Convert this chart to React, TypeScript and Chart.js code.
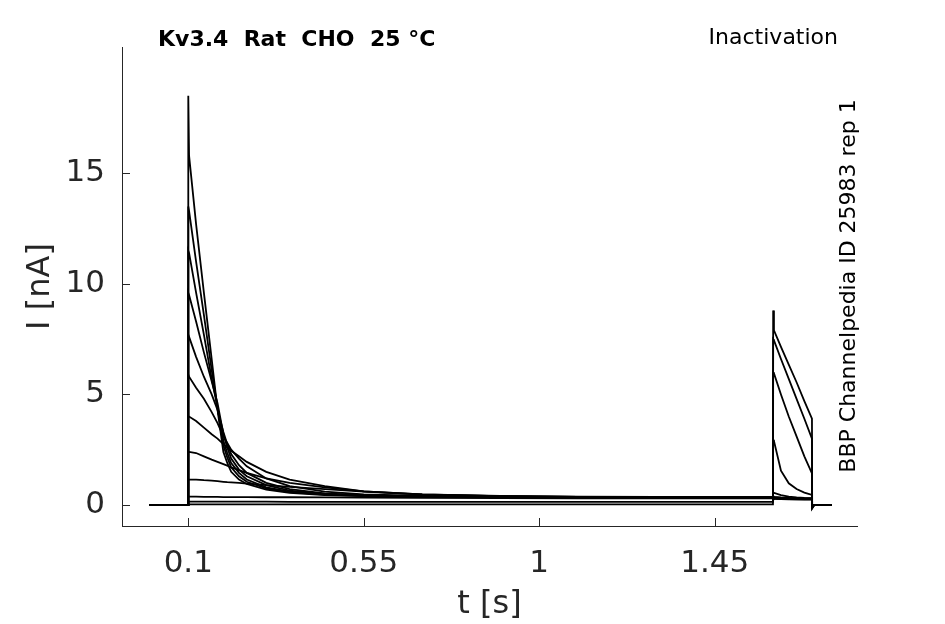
import { useEffect, useRef } from "react"
import { Chart, registerables } from "chart.js"

Chart.register(...registerables)

// sample times [s] shared by every sweep
const timeS = [
  0, 0.0995, 0.1, 0.102, 0.12, 0.14, 0.16, 0.175, 0.19, 0.2, 0.21, 0.23, 0.25, 0.3, 0.36, 0.45, 0.55, 0.7,
  0.9, 1.1, 1.3, 1.5, 1.5995, 1.6, 1.602, 1.62, 1.64, 1.66, 1.68, 1.6995, 1.7, 1.705, 1.75,
]

// current [nA] per sweep
const sweep01 = [0, 0, 18.5, 15.8, 12.7, 9.6, 6.6, 4.3, 2.4, 1.9, 1.5, 1.15, 0.95, 0.7, 0.55, 0.45, 0.4, 0.37, 0.35, 0.34, 0.33, 0.33, 0.32, 0.3, 0.28, 0.27, 0.26, 0.26, 0.25, 0.25, -0.1, 0, 0]
const sweep02 = [0, 0, 13.5, 13.3, 11.0, 8.6, 6.1, 4.4, 2.7, 2.15, 1.7, 1.3, 1.05, 0.75, 0.58, 0.47, 0.41, 0.37, 0.35, 0.34, 0.33, 0.32, 0.32, 0.32, 0.3, 0.28, 0.27, 0.26, 0.26, 0.25, -0.1, 0, 0]
const sweep03 = [0, 0, 11.5, 11.4, 9.6, 7.7, 5.7, 4.4, 2.9, 2.35, 1.9, 1.45, 1.15, 0.8, 0.6, 0.48, 0.42, 0.38, 0.35, 0.34, 0.33, 0.32, 0.32, 0.33, 0.31, 0.29, 0.28, 0.27, 0.26, 0.26, -0.1, 0, 0]
const sweep04 = [0, 0, 9.6, 9.5, 8.3, 6.9, 5.6, 4.6, 3.2, 2.6, 2.1, 1.6, 1.3, 0.9, 0.65, 0.5, 0.43, 0.39, 0.36, 0.35, 0.34, 0.33, 0.33, 0.34, 0.32, 0.3, 0.29, 0.28, 0.27, 0.27, -0.1, 0, 0]
const sweep05 = [0, 0, 7.7, 7.6, 6.7, 5.8, 5.0, 4.3, 3.3, 2.75, 2.3, 1.8, 1.45, 1.0, 0.72, 0.52, 0.44, 0.4, 0.37, 0.35, 0.34, 0.34, 0.33, 0.35, 0.33, 0.31, 0.3, 0.29, 0.28, 0.28, -0.1, 0, 0]
const sweep06 = [0, 0, 5.9, 5.8, 5.3, 4.8, 4.2, 3.7, 3.1, 2.8, 2.5, 2.1, 1.75, 1.2, 0.85, 0.6, 0.48, 0.41, 0.38, 0.36, 0.35, 0.34, 0.34, 0.36, 0.34, 0.32, 0.31, 0.3, 0.29, 0.29, -0.1, 0, 0]
const sweep07 = [0, 0, 4.0, 4.0, 3.8, 3.5, 3.2, 3.0, 2.75, 2.6, 2.45, 2.2, 1.95, 1.5, 1.15, 0.85, 0.62, 0.48, 0.4, 0.37, 0.36, 0.35, 0.35, 0.4, 0.37, 0.34, 0.32, 0.31, 0.3, 0.3, -0.1, 0, 0]
const sweep08 = [0, 0, 2.4, 2.4, 2.35, 2.2, 2.05, 1.95, 1.85, 1.78, 1.7, 1.58, 1.45, 1.2, 1.0, 0.8, 0.62, 0.48, 0.41, 0.38, 0.37, 0.36, 0.36, 0.56, 0.55, 0.45, 0.38, 0.34, 0.32, 0.31, -0.1, 0, 0]
const sweep09 = [0, 0, 1.15, 1.15, 1.15, 1.12, 1.1, 1.08, 1.05, 1.03, 1.02, 1.0, 0.97, 0.9, 0.82, 0.72, 0.6, 0.47, 0.4, 0.37, 0.36, 0.35, 0.35, 2.95, 2.9, 1.55, 0.98, 0.72, 0.56, 0.46, -0.1, 0, 0]
const sweep10 = [0, 0, 0.4, 0.38, 0.38, 0.37, 0.37, 0.37, 0.36, 0.36, 0.36, 0.36, 0.36, 0.35, 0.35, 0.34, 0.33, 0.32, 0.31, 0.3, 0.3, 0.3, 0.3, 6.0, 5.95, 5.0, 4.0, 3.1, 2.2, 1.43, -0.1, 0, 0]
const sweep11 = [0, 0, 0.16, 0.15, 0.15, 0.15, 0.15, 0.15, 0.15, 0.15, 0.15, 0.15, 0.15, 0.15, 0.14, 0.14, 0.14, 0.14, 0.14, 0.14, 0.14, 0.14, 0.14, 7.5, 7.45, 6.6, 5.7, 4.8, 3.9, 3.0, -0.15, 0, 0]
const sweep12 = [0, 0, 0.04, 0.03, 0.03, 0.03, 0.03, 0.03, 0.03, 0.03, 0.03, 0.03, 0.03, 0.03, 0.03, 0.03, 0.03, 0.03, 0.03, 0.03, 0.03, 0.03, 0.03, 8.8, 7.9, 7.15, 6.35, 5.55, 4.7, 3.9, -0.15, 0, 0]

const sweeps = [sweep01, sweep02, sweep03, sweep04, sweep05, sweep06, sweep07, sweep08, sweep09, sweep10, sweep11, sweep12]

const xTicks = [0.1, 0.55, 1, 1.45]
const yTicks = [0, 5, 10, 15]

const INK = "#262626"
const FONT = "'DejaVu Sans', sans-serif"

// inward tick marks plus the header / side annotations
const decorations = {
  id: "decorations",
  afterDraw(chart: Chart) {
    const { ctx } = chart
    const x = chart.scales.x
    const y = chart.scales.y
    ctx.save()
    ctx.strokeStyle = INK
    ctx.lineWidth = 1
    ctx.beginPath()
    for (const v of xTicks) {
      const px = Math.round(x.getPixelForValue(v)) + 0.5
      ctx.moveTo(px, y.bottom)
      ctx.lineTo(px, y.bottom - 8)
    }
    for (const v of yTicks) {
      const py = Math.round(y.getPixelForValue(v)) + 0.5
      ctx.moveTo(x.left, py)
      ctx.lineTo(x.left + 8, py)
    }
    ctx.stroke()

    ctx.fillStyle = "#000"
    ctx.textBaseline = "middle"
    ctx.font = `bold 22px ${FONT}`
    ctx.textAlign = "left"
    ctx.fillText("Kv3.4  Rat  CHO  25 °C", 158, 40)
    ctx.font = `22px ${FONT}`
    ctx.textAlign = "right"
    ctx.fillText("Inactivation", 838, 38)
    ctx.translate(849, 286)
    ctx.rotate(-Math.PI / 2)
    ctx.textAlign = "center"
    ctx.fillText("BBP Channelpedia ID 25983 rep 1", 0, 0)
    ctx.restore()
  },
}

export default function App() {
  const canvasRef = useRef<HTMLCanvasElement>(null)
  const chartRef = useRef<Chart | null>(null)

  useEffect(() => {
    if (!canvasRef.current) return
    if (chartRef.current) chartRef.current.destroy()

    chartRef.current = new Chart(canvasRef.current, {
      type: "line",
      data: {
        datasets: sweeps.map((values, i) => ({
          label: `sweep ${i + 1}`,
          data: values.map((v, k) => ({ x: timeS[k], y: v })),
          borderColor: "#000",
          borderWidth: 1.8,
          pointRadius: 0,
          tension: 0,
          fill: false,
        })),
      },
      options: {
        responsive: false,
        animation: false,
        events: [],
        layout: { padding: { top: 47, right: 88, bottom: 0, left: 0 } },
        plugins: {
          legend: { display: false },
          tooltip: { enabled: false },
        },
        scales: {
          x: {
            type: "linear",
            min: -0.07,
            max: 1.815,
            afterFit: (s) => {
              s.height = 98
            },
            afterBuildTicks: (s) => {
              s.ticks = xTicks.map((value) => ({ value }))
            },
            grid: { display: false, drawTicks: false },
            border: { display: true, color: INK, width: 1 },
            ticks: {
              autoSkip: false,
              maxRotation: 0,
              padding: 19,
              color: INK,
              font: { family: FONT, size: 31 },
              callback: (v) => String(v),
            },
            title: {
              display: true,
              text: "t [s]",
              color: INK,
              font: { family: FONT, size: 32 },
              padding: { top: 0, bottom: 0 },
            },
          },
          y: {
            type: "linear",
            min: -0.95,
            max: 20.71,
            afterFit: (s) => {
              s.width = 122
            },
            afterBuildTicks: (s) => {
              s.ticks = yTicks.map((value) => ({ value }))
            },
            grid: { display: false, drawTicks: false },
            border: { display: true, color: INK, width: 1 },
            ticks: {
              autoSkip: false,
              padding: 17,
              color: INK,
              font: { family: FONT, size: 31 },
              callback: (v) => String(v),
            },
            title: {
              display: true,
              text: "I [nA]",
              color: INK,
              font: { family: FONT, size: 32 },
              padding: { top: 21, bottom: 0 },
            },
          },
        },
      },
      plugins: [decorations],
    })

    return () => {
      if (chartRef.current) {
        chartRef.current.destroy()
        chartRef.current = null
      }
    }
  }, [])

  return (
    <div style={{ position: "absolute", left: 0, top: 0, width: 945, height: 624, background: "#fff" }}>
      <canvas ref={canvasRef} width={945} height={624} />
    </div>
  )
}
